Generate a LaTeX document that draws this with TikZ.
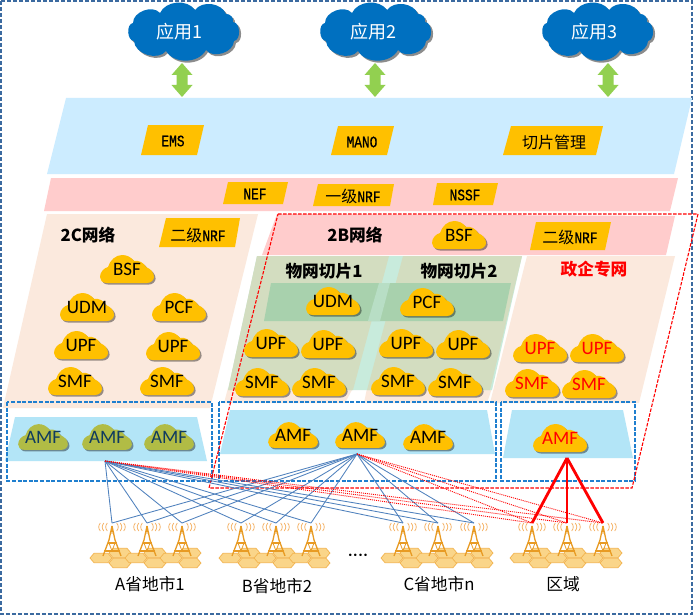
\documentclass[tikz,border=0pt]{standalone}
\usepackage{fontspec}
\setmainfont{Noto Sans CJK SC}
\newfontfamily\calfont{Carlito}
\newfontfamily\djfont{DejaVu Sans}
\newfontfamily\monof[FakeStretch=0.8,FakeBold=0.6]{Liberation Mono}
\usetikzlibrary{shadows}
\definecolor{peach}{HTML}{FBE9DD}
\definecolor{pinkb}{HTML}{FFCCCC}
\definecolor{blueb}{HTML}{CCECFF}
\definecolor{amfb}{HTML}{B3E5F7}
\definecolor{olivez}{HTML}{D3DDC0}
\definecolor{mintz}{HTML}{C8EBDC}
\definecolor{darkg}{HTML}{A8D1AD}
\definecolor{yel}{HTML}{FFC000}
\definecolor{oliveamf}{HTML}{B1BC45}
\definecolor{navyt}{HTML}{0F3A5F}
\definecolor{cloudb}{HTML}{0070C0}
\definecolor{arrowg}{HTML}{92D050}
\definecolor{outerb}{HTML}{3B6AA0}
\definecolor{boxb}{HTML}{1F7FCF}
\definecolor{linkb}{HTML}{4F81BD}
\definecolor{towero}{HTML}{E89B24}
\definecolor{wave}{HTML}{F5B56B}
\definecolor{hexf}{HTML}{FAD589}
\definecolor{hexd}{HTML}{F2B34E}
\tikzset{
  x=1pt,y=-1pt,
  apptext/.style={inner sep=0pt,text=white,font=\fontsize{18}{20}\selectfont},
  tag/.style={fill=yel},
  tagtext/.style={inner sep=0pt,font=\fontsize{16}{18}\selectfont},
  cloudtext/.style={inner sep=0pt,font=\calfont\fontsize{19}{20}\selectfont},
  heading/.style={inner sep=0pt,font=\fontsize{16.7}{18}\selectfont\bfseries},
  citytext/.style={inner sep=0pt,font=\fontsize{16.7}{18}\selectfont},
  dashbox/.style={draw=boxb,line width=1.4pt,dash pattern=on 4pt off 1.6pt},
  reddash/.style={draw=red,line width=1.1pt,dash pattern=on 3.5pt off 1.5pt},
  blueline/.style={draw=linkb,line width=.85pt},
  reddot/.style={draw=red,line width=.9pt,dash pattern=on 1pt off 1pt},
  redthick/.style={draw=red,line width=2.8pt},
}
\newcommand{\ycl}[7][1]{%
  \path[shift={(#3,#4)},scale=#1,fill=#5,drop shadow={shadow xshift=1.6pt,shadow yshift=-1.6pt,opacity=.4,fill=black}]
    (-20,14) .. controls (-25,14) and (-27,11) .. (-27,8)
    .. controls (-27,3) and (-23,-1) .. (-19,-2)
    .. controls (-17,-9) and (-11,-14) .. (-5,-14)
    .. controls (0,-14) and (4,-12) .. (7,-8)
    .. controls (12,-9) and (17,-6) .. (19,-2)
    .. controls (24,0) and (27,4) .. (27,8)
    .. controls (27,11) and (24,14) .. (20,14) -- cycle;
  \node[cloudtext,text=#6] (#2) at (#3,#4) {#7};}
\newcommand{\appcl}[1]{%
  \path[shift={(#1,31)},fill=cloudb,drop shadow={shadow xshift=2pt,shadow yshift=-2pt,opacity=.45,fill=black}]
    (-50,-8) to[bend left=70] (-23,-18) to[bend left=60] (12,-21)
    to[bend left=60] (43,-17) to[bend left=55] (50,-9)
    to[bend left=85] (51,10) to[bend left=70] (23,19)
    to[bend left=60] (-17,20) to[bend left=70] (-49,10)
    to[bend left=85] (-50,-8) -- cycle;}
\newcommand{\garrow}[1]{%
  \fill[arrowg] (#1,63) -- (#1+10.5,75) -- (#1+5.5,75) -- (#1+5.5,85) -- (#1+10.5,85) -- (#1,97)
     -- (#1-10.5,85) -- (#1-5.5,85) -- (#1-5.5,75) -- (#1-10.5,75) -- cycle;}
\begin{document}
\begin{tikzpicture}
\useasboundingbox (0,0) rectangle (700,615);
\fill[white] (0,0) rectangle (700,615);
% outer
\draw[draw=outerb,line width=1.2pt,dash pattern=on 4pt off 2pt] (1,1) rectangle (692,614);
% apps
\appcl{183}\appcl{375}\appcl{597}
\node[apptext] (app1) at (179,32) {应用1};
\node[apptext] (app2) at (373,32) {应用2};
\node[apptext] (app3) at (594,32) {应用3};
\garrow{182}\garrow{375}\garrow{608}
% bands
\fill[blueb] (66,98) -- (692,98) -- (674,174) -- (47,174) -- cycle;
\fill[pinkb] (51,178) -- (678,178) -- (670,211) -- (44,211) -- cycle;
\fill[tag] (148,125) -- (204,125) -- (197,155) -- (141,155) -- cycle;
\node[tagtext] (ems) at (173,141) {\monof EMS};
\fill[tag] (338,126) -- (394,126) -- (387,155) -- (331,155) -- cycle;
\node[tagtext] (mano) at (362,142) {\monof MANO};
\fill[tag] (511,126) -- (603,126) -- (596,155) -- (503,155) -- cycle;
\node[tagtext] (slice) at (554,142) {切片管理};
\fill[tag] (228,182) -- (288,182) -- (283,204) -- (223,204) -- cycle;
\node[tagtext] (nef) at (255,194) {\monof NEF};
\fill[tag] (318,184) -- (394,184) -- (390,206) -- (313,206) -- cycle;
\node[tagtext] (nrf1) at (353,196) {一级\monof NRF};
\fill[tag] (437,183) -- (498,183) -- (493,205) -- (433,205) -- cycle;
\node[tagtext] (nssf) at (465,195) {\monof NSSF};
% 2C
\fill[peach] (47,214) -- (258,214) -- (210,408) -- (3,408) -- cycle;
\node[heading] (h2c) at (88,235) {2C网络};
\fill[tag] (166,218) -- (240,218) -- (235,247) -- (159,247) -- cycle;
\node[tagtext] (nrf2c) at (198,235) {二级\monof NRF};
% 2B
\fill[pinkb] (277,214) -- (675,216) -- (666,255) -- (262,255) -- cycle;
\node[heading] (h2b) at (355,235) {2B网络};
\fill[tag] (536,222) -- (611,222) -- (605,250) -- (530,250) -- cycle;
\node[tagtext] (nrf2b) at (570,237) {二级\monof NRF};
% slices
\fill[peach] (228,388) -- (353,388) -- (345,403) -- (224,403) -- cycle;
\fill[peach] (367,388) -- (492,388) -- (487,403) -- (364,403) -- cycle;
\fill[mintz] (257,256) -- (522,256) -- (492,390) -- (228,390) -- cycle;
\fill[olivez] (257,256) -- (389,256) -- (353,390) -- (228,390) -- cycle;
\fill[olivez] (403,256) -- (522,256) -- (490,390) -- (367,390) -- cycle;
\fill[darkg] (271,283) -- (511,283) -- (503,321) -- (264,321) -- cycle;
\fill[mintz!50!darkg] (379,283) -- (390,283) -- (380,321) -- (368,321) -- cycle;
\node[heading] (s1) at (324,271) {物网切片1};
\node[heading] (s2) at (459,271) {物网切片2};
% enterprise
\fill[peach] (527,256) -- (675,256) -- (639,403) -- (490,403) -- cycle;
\node[heading,text=red] (ent) at (594,269) {政企专网};
% AMF bands
\fill[amfb] (15,417) -- (197,417) -- (207,461) -- (5,461) -- cycle;
\fill[amfb] (230,410) -- (487,410) -- (495,454) -- (220,454) -- cycle;
\fill[amfb] (512,410) -- (623,410) -- (633,458) -- (503,458) -- cycle;
% dashed boxes
\draw[dashbox] (7,402) rectangle (212,481);
\draw[dashbox] (219,402) rectangle (496,481);
\draw[dashbox] (501,402) rectangle (635,481);
% red dashed region
\draw[reddash] (278,214) -- (698,214) -- (632,488) -- (209,488) -- cycle;
% clouds
\ycl{c2cbsf}{127}{269}{yel}{black}{BSF}
\ycl{c2cudm}{87}{307}{yel}{black}{UDM}
\ycl{c2cpcf}{179}{307}{yel}{black}{PCF}
\ycl{c2cupfa}{81}{345}{yel}{black}{UPF}
\ycl{c2cupfb}{173}{346}{yel}{black}{UPF}
\ycl{c2csmfa}{75}{381}{yel}{black}{SMF}
\ycl{c2csmfb}{167}{381}{yel}{black}{SMF}
\ycl{c2bbsf}{459}{235}{yel}{black}{BSF}
\ycl{c2budm}{333}{301}{yel}{black}{UDM}
\ycl{c2bpcf}{427}{302}{yel}{black}{PCF}
\ycl{c2bupfa}{271}{343}{yel}{black}{UPF}
\ycl{c2bupfb}{328}{344}{yel}{black}{UPF}
\ycl{c2bupfc}{406}{343}{yel}{black}{UPF}
\ycl{c2bupfd}{463}{344}{yel}{black}{UPF}
\ycl{c2bsmfa}{262}{382}{yel}{black}{SMF}
\ycl{c2bsmfb}{319}{382}{yel}{black}{SMF}
\ycl{c2bsmfc}{398}{381}{yel}{black}{SMF}
\ycl{c2bsmfd}{455}{382}{yel}{black}{SMF}
\ycl{cgupfa}{540}{348}{yel}{red}{UPF}
\ycl{cgupfb}{597}{348}{yel}{red}{UPF}
\ycl{cgsmfa}{532}{383}{yel}{red}{SMF}
\ycl{cgsmfb}{589}{384}{yel}{red}{SMF}
\ycl[.92]{amfa}{43}{437}{oliveamf}{navyt}{AMF}
\ycl[.92]{amfb}{107}{437}{oliveamf}{navyt}{AMF}
\ycl[.92]{amfc}{169}{437}{oliveamf}{navyt}{AMF}
\ycl[.92]{amfd}{293}{435}{yel}{black}{AMF}
\ycl[.92]{amfe}{360}{435}{yel}{black}{AMF}
\ycl[.92]{amff}{428}{437}{yel}{black}{AMF}
\ycl{amfg}{560}{438}{yel}{red}{AMF}
% hexes and towers
\foreach \tx/\tn in {112/ta,147/tb,182/tc,241/td,276/te,311/tf,403/tg,438/th,474/ti,532/tj,567/tk,603/tl}{
  \foreach \hx/\hy in {-11/558,8/553,8/563}{
    \pgfmathsetmacro\cx{\tx+\hx}
    \path[fill=hexf,draw=hexd,line width=.7pt] (\cx-11,\hy) -- (\cx-7,\hy-4.7) -- (\cx+7,\hy-4.7) -- (\cx+11,\hy) -- (\cx+7,\hy+4.7) -- (\cx-7,\hy+4.7) -- cycle;
  }
}
\foreach \tx/\tn in {112/ta,147/tb,182/tc,241/td,276/te,311/tf,403/tg,438/th,474/ti,532/tj,567/tk,603/tl}{
  \coordinate (\tn) at (\tx,523);
  \draw[towero,line width=1.3pt] (\tx,526) -- (\tx-3,540) -- (\tx-9,556) (\tx,526) -- (\tx+3,540) -- (\tx+9,556);
  \draw[towero,line width=1.3pt] (\tx,526) -- (\tx,532);
  \draw[towero,line width=1.6pt] (\tx-4.5,543) -- (\tx+4.5,543) (\tx-8,551) -- (\tx+8,551);
  \draw[towero,line width=.8pt] (\tx-2,533) -- (\tx+2,533) (\tx-3,543) -- (\tx,551) -- (\tx+3,543);
  \foreach \r in {6,9.5,13}{
    \draw[wave,line width=.8pt] (\tx-\r+1.3,523) .. controls (\tx-\r-.8,526) and (\tx-\r-.8,528) .. (\tx-\r+1.3,531);
    \draw[wave,line width=.8pt] (\tx+\r-1.3,523) .. controls (\tx+\r+.8,526) and (\tx+\r+.8,528) .. (\tx+\r-1.3,531);
  }
}
% apexes
\coordinate (apexa) at (105,461);
\coordinate (apexb) at (357,454);
\coordinate (apexc) at (567,458);
\foreach \tn in {ta,tb,tc,td,te,tf,tg,th,ti}{
  \draw[blueline] (apexa) -- (\tn);
  \draw[blueline] (apexb) -- (\tn);
}
\foreach \tn in {tj,tk,tl}{
  \draw[reddot] (apexa) -- (\tn);
  \draw[reddot] (apexb) -- (\tn);
  \draw[redthick] (apexc) -- (\tn);
}
% dots
\node[inner sep=0pt,font=\djfont\fontsize{8.5}{10}\selectfont] (dots) at (358,556) {••••};
% city labels
\node[citytext] (cA) at (150,584) {A省地市1};
\node[citytext] (cB) at (277,586) {B省地市2};
\node[citytext] (cC) at (439,584) {C省地市n};
\node[citytext] (cR) at (563,584) {区域};
\end{tikzpicture}
\end{document}
